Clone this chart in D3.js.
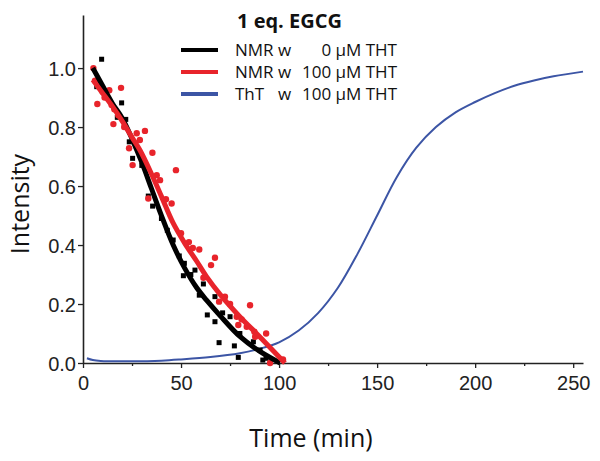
<!DOCTYPE html>
<html>
<head>
<meta charset="utf-8">
<script src="https://cdn.jsdelivr.net/npm/d3@7"></script>
<style>
	body { margin: 0; background: #fff; }
	svg { display: block; }
	.tick text { font-family: "Liberation Sans", Arial, sans-serif; font-size: 20px; fill: #222; }
	.lab { font-family: "Open Sans", sans-serif; fill: #111; }
</style>
</head>
<body>
<div id="graphicContainer"></div>
<script>

// NMR w 0 uM THT, black squares [time, intensity]
var blackPts = [[9.5,1.03],[7,0.937],[19.7,0.882],[17.5,0.833],[21.8,0.826],[23.6,0.75],[25.3,0.694],[30,0.67],
	[33.3,0.566],[35.5,0.532],[40,0.49],[43,0.45],[46,0.417],[49.1,0.363],[51.7,0.338],[57.1,0.315],[51.2,0.296],
	[55,0.3],[61.4,0.268],[59.3,0.23],[67.3,0.225],[63.4,0.163],[71.2,0.17],[67.3,0.14],[75,0.157],[69.4,0.069],
	[77.2,0.058],[79.2,0.019],[80,0.1],[86.9,0.072],[93.4,0.016],[90.3,0.044],[91.7,0.01]]

// NMR w 100 uM THT, red circles
var redPts = [[5.3,1.0],[6.1,0.957],[7.3,0.878],[8,0.94],[10,0.92],[11,0.9],[13.4,0.925],[19.4,0.933],[15.5,0.81],
	[14.6,0.875],[16,0.86],[18,0.84],[21,0.8],[27.4,0.779],[31.6,0.787],[29,0.756],[23.5,0.728],[35.4,0.713],
	[25.3,0.671],[47.4,0.654],[37.6,0.637],[39.3,0.62],[33.3,0.558],[42.3,0.555],[45.2,0.541],[50,0.44],[54,0.41],
	[56,0.39],[59.3,0.385],[67.3,0.357],[65.3,0.332],[61.4,0.289],[72.4,0.225],[69.4,0.208],[75,0.2],[85.2,0.196],
	[78.4,0.157],[80.9,0.148],[79.2,0.129],[83.5,0.123],[87.4,0.106],[93.4,0.1],[87.8,0.089],[95.4,0.0],[102,0.012]]

// fitted curves
var blackFit = [[5,1.0],[10,0.94],[15,0.88],[20,0.83],[25,0.76],[30,0.68],[35,0.59],[40,0.5],[46,0.4],[52,0.32],
	[58,0.255],[63,0.213],[70,0.16],[80,0.09],[90,0.04],[100.5,0.0]]
var redFit = [[5,0.96],[10,0.915],[15,0.87],[20,0.82],[25,0.765],[29,0.722],[35,0.64],[40,0.565],[46,0.474],
	[52,0.405],[58,0.345],[63,0.293],[70,0.232],[80,0.157],[90,0.09],[103,0.0]]

// ThT fluorescence
var blueCurve = [[2,0.016],[5,0.01],[9,0.007],[24,0.006],[40,0.008],[50,0.012],[65,0.02],[80,0.033],[90,0.048],
	[100,0.07],[110,0.11],[120,0.17],[130,0.255],[140,0.37],[150,0.5],[160,0.63],[170,0.73],[180,0.8],
	[190,0.85],[200,0.885],[210,0.915],[220,0.94],[230,0.958],[240,0.972],[255,0.988]]

var xTicks = [0, 50, 100, 150, 200, 250]
var xMinor = [25, 75, 125, 175, 225]
var yTicks = [0, 0.2, 0.4, 0.6, 0.8, 1.0]

var legendItems = [
	{left: "NMR w", mid: "", right: "0 μM THT", color: "#000"},
	{left: "NMR w", mid: "", right: "100 μM THT", color: "#e8242b"},
	{left: "ThT", mid: "w", right: "100 μM THT", color: "#3c55a5"}
]

var width = 600, height = 461
var margin = {top: 15, right: 17, bottom: 98, left: 83}

var svg = d3.select("#graphicContainer").append("svg")
	.attr("width", width)
	.attr("height", height)

var x = d3.scaleLinear()
	.domain([0, 255])
	.range([margin.left, width - margin.right])

var y = d3.scaleLinear()
	.domain([0, 1.18])
	.range([height - margin.bottom, margin.top])

// axes
svg.append("g")
	.attr("transform", "translate(0," + y(0) + ")")
	.call(d3.axisBottom(x).tickValues(xMinor).tickSize(3).tickFormat(""))
	.call(g => g.select(".domain").remove())
	.selectAll("line").attr("stroke", "#222").attr("stroke-width", 1.3)

svg.append("g")
	.attr("transform", "translate(0," + y(0) + ")")
	.call(d3.axisBottom(x).tickValues(xTicks).tickSize(5).tickSizeOuter(0).tickPadding(8).tickFormat(d3.format("d")))
	.call(g => g.select(".domain").attr("stroke", "#222").attr("stroke-width", 1.6))
	.call(g => g.selectAll("line").attr("stroke", "#222").attr("stroke-width", 1.3))

svg.append("g")
	.attr("transform", "translate(" + x(0) + ",0)")
	.call(d3.axisLeft(y).tickValues(yTicks).tickSize(5).tickSizeOuter(0).tickPadding(2).tickFormat(d3.format(".1f")))
	.call(g => g.select(".domain").attr("stroke", "#222").attr("stroke-width", 1.6))
	.call(g => g.selectAll("line").attr("stroke", "#222").attr("stroke-width", 1.3))
	.selectAll("text").attr("dy", "0.36em")

var line = d3.line()
	.x(d => x(d[0]))
	.y(d => y(d[1]))
	.curve(d3.curveCatmullRom.alpha(0.5))

var plot = svg.append("g")

plot.append("path")
	.datum(blueCurve)
	.attr("d", line)
	.attr("fill", "none")
	.attr("stroke", "#3c55a5")
	.attr("stroke-width", 2)

plot.selectAll(".sq")
	.data(blackPts)
	.enter()
	.append("rect")
	.attr("class", "sq")
	.attr("x", d => x(d[0]) - 2.5)
	.attr("y", d => y(d[1]) - 2.5)
	.attr("width", 5)
	.attr("height", 5)
	.attr("fill", "#000")

plot.selectAll(".dot")
	.data(redPts)
	.enter()
	.append("circle")
	.attr("class", "dot")
	.attr("cx", d => x(d[0]))
	.attr("cy", d => y(d[1]))
	.attr("r", 3.2)
	.attr("fill", "#e8242b")

plot.append("path")
	.datum(blackFit)
	.attr("d", line)
	.attr("fill", "none")
	.attr("stroke", "#000")
	.attr("stroke-width", 5)

plot.append("path")
	.datum(redFit)
	.attr("d", line)
	.attr("fill", "none")
	.attr("stroke", "#e8242b")
	.attr("stroke-width", 5)

// axis titles
svg.append("text")
	.attr("class", "lab")
	.attr("text-anchor", "middle")
	.attr("transform", "translate(29," + 204 + ")rotate(-90)")
	.attr("font-size", 25)
	.text("Intensity")

svg.append("text")
	.attr("class", "lab")
	.attr("text-anchor", "middle")
	.attr("x", 311)
	.attr("y", 447)
	.attr("font-size", 25)
	.text("Time (min)")

// legend
var legend = svg.append("g")

legend.append("text")
	.attr("class", "lab")
	.attr("x", 237)
	.attr("y", 28)
	.attr("font-size", 20)
	.attr("font-weight", "bold")
	.text("1 eq. EGCG")

legendItems.forEach(function (d, i) {
	var ly = 50 + i * 22
	legend.append("line")
		.attr("x1", 181).attr("x2", 218)
		.attr("y1", ly).attr("y2", ly)
		.attr("stroke", d.color)
		.attr("stroke-width", 4)
	legend.append("text")
		.attr("class", "lab")
		.attr("x", 235).attr("y", ly + 6)
		.attr("font-size", 17)
		.text(d.left)
	if (d.mid) {
		legend.append("text")
			.attr("class", "lab")
			.attr("x", 278).attr("y", ly + 6)
			.attr("font-size", 17)
			.text(d.mid)
	}
	legend.append("text")
		.attr("class", "lab")
		.attr("text-anchor", "end")
		.attr("x", 397).attr("y", ly + 6)
		.attr("font-size", 17)
		.text(d.right)
})

</script>
</body>
</html>
